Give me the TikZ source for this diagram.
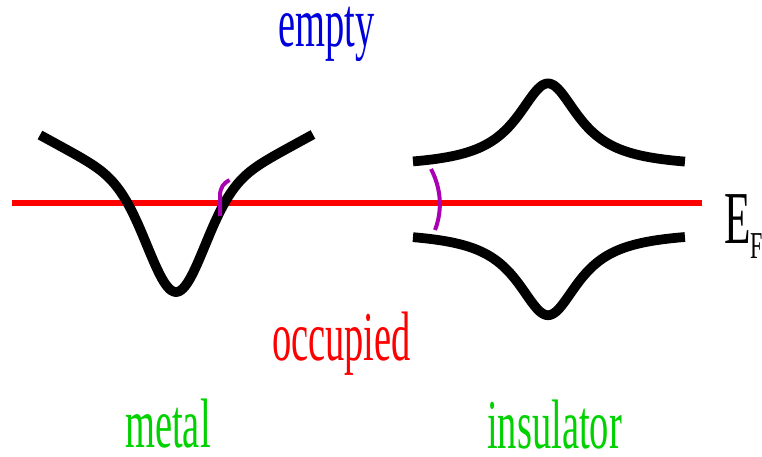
\documentclass[tikz,border=0pt]{standalone}
\usepackage{fontspec}
\setmainfont{Liberation Serif}
\usepackage{graphicx}
\definecolor{fermired}{RGB}{255,0,0}
\definecolor{emptyblue}{RGB}{0,0,220}
\definecolor{labelgreen}{RGB}{0,210,0}
\definecolor{gappurple}{RGB}{170,0,180}
\tikzset{
  band/.style={line width=7.3pt, black, line cap=butt, line join=round},
  fermiline/.style={line width=4.8pt, fermired},
  gapmark/.style={line width=3pt, gappurple, line cap=butt},
  bigtext/.style={anchor=base, inner sep=0pt, outer sep=0pt, font=\fontsize{52.5}{60}\selectfont},
}
\newcommand{\narrow}[1]{\scalebox{0.55}[1]{#1}}
\begin{document}
\begin{tikzpicture}[x=0.75pt,y=-0.75pt]
\useasboundingbox (0,0) rectangle (762,456);
% Fermi level
\coordinate (fL) at (12,202.8);
\coordinate (fR) at (702,202.8);
\draw[fermiline] (fL) -- (fR);
% metal band
\draw[band] plot[domain=-3.4:3.425, samples=140, variable=\u]
  ({176+40*\u}, {292 - 90*(1-exp(-(\u)^2)) - 0.55*(40*sqrt((\u)^2+0.140625)-15)});
% insulator bands
\draw[band] plot[domain=-3.553:3.605, samples=140, variable=\u]
  ({548+38*\u}, {167.6 - 84.2/(1+(\u)^2)});
\draw[band] plot[domain=-3.553:3.605, samples=140, variable=\u]
  ({548+38*\u}, {231 + 84.2/(1+(\u)^2)});
% purple marks
\coordinate (m1) at (220,216);
\coordinate (m2) at (220,196);
\coordinate (m3) at (229.5,180);
\draw[gapmark] (m1) -- (m2) .. controls (220,187) and (224,183) .. (m3);
\coordinate (g1) at (431,169);
\coordinate (g2) at (435,230);
\draw[gapmark] (g1) .. controls (442,190) and (442,212) .. (g2);
% labels
\node[bigtext, text=emptyblue] (empty) at (326.5,47) {\narrow{empty}};
\node[bigtext, text=fermired] (occ) at (341.5,360) {\narrow{occupied}};
\node[bigtext, text=labelgreen] (metal) at (168,447) {\narrow{metal}};
\node[bigtext, text=labelgreen] (ins) at (554.5,448) {\narrow{insulator}};
\node[anchor=base west, inner sep=0pt, outer sep=0pt, font=\fontsize{56}{60}\selectfont] (E) at (724,243) {\scalebox{0.58}[1]{E}};
\node[anchor=base west, inner sep=0pt, outer sep=0pt, font=\fontsize{28.5}{30}\selectfont] (F) at (750,258) {\scalebox{0.58}[1]{F}};
\end{tikzpicture}
\end{document}
